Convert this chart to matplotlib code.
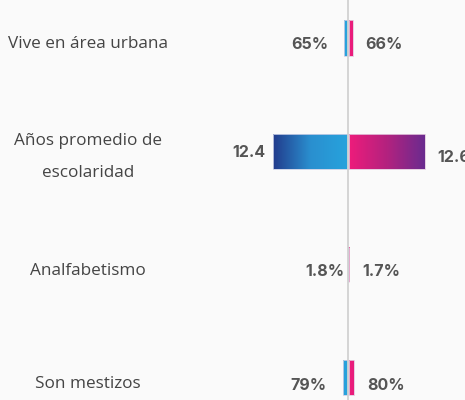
import matplotlib
matplotlib.use('Agg')
import matplotlib.pyplot as plt
from matplotlib.colors import LinearSegmentedColormap
import numpy as np

plt.rcParams['font.family'] = ['Open Sans', 'DejaVu Sans']

categories = ['Vive en área urbana', 'Años promedio de\nescolaridad',
              'Analfabetismo', 'Son mestizos']
left_vals = [0.65, 12.4, 0.018, 0.79]
right_vals = [0.66, 12.6, 0.017, 0.80]
left_labels = ['65%', '12.4', '1.8%', '79%']
right_labels = ['66%', '12.6', '1.7%', '80%']

# style / layout
BG = '#fafafa'
left_cmap = LinearSegmentedColormap.from_list('l', ['#223b8c', '#2a8fcf', '#27a3dd'])
right_cmap = LinearSegmentedColormap.from_list('r', ['#ee1c7b', '#b3227f', '#6a2b8f'])
BAR_H = 0.31
left_pad = [15, 8, 3, 16]      # px gap between bar end and label
right_pad = [12, 12, 13, 13]
left_dy = [7, 1, 7, 8]         # px shift of label below row centre
right_dy = [7, 6, 7, 8]
VAL_FONT = ['Inter', 'DejaVu Sans']

fig = plt.figure(figsize=(4.65, 4.0), dpi=100)
fig.patch.set_facecolor(BG)
ax = fig.add_axes([0, 0, 1, 1])
ax.set_facecolor(BG)
ax.axis('off')

y = np.arange(len(categories))
lmax = max(left_vals)
rmax = max(right_vals)
grad = np.linspace(0, 1, 256).reshape(1, -1)

lbars = ax.barh(y, [-v for v in left_vals], height=BAR_H, left=-0.13,
                facecolor='none', edgecolor='#c9cfe6', lw=0.6, zorder=3)
rbars = ax.barh(y, right_vals, height=BAR_H, left=0.13,
                facecolor='none', edgecolor='#e3c8de', lw=0.6, zorder=3)

for b in lbars:
    yb = b.get_y()
    im = ax.imshow(grad, cmap=left_cmap, aspect='auto', zorder=2,
                   extent=(-lmax - 0.13, -0.13, yb + BAR_H, yb))
    im.set_clip_path(b)
for b in rbars:
    yb = b.get_y()
    im = ax.imshow(grad, cmap=right_cmap, aspect='auto', zorder=2,
                   extent=(0.13, rmax + 0.13, yb + BAR_H, yb))
    im.set_clip_path(b)

ax.set_xlim(-58.08, 19.42)
ax.set_ylim(3.195, -0.335)

ax.axvline(0, color='#d2d2d2', lw=1.3, zorder=4)

for i, cat in enumerate(categories):
    ax.annotate(cat, xy=(0.189, i), xycoords=('axes fraction', 'data'),
                xytext=(0, -6), textcoords='offset pixels',
                ha='center', va='center', fontsize=12.3, color='#444444',
                linespacing=2.3)
    ax.annotate(left_labels[i], xy=(-left_vals[i] - 0.13, i),
                xytext=(-left_pad[i], -left_dy[i]), textcoords='offset pixels',
                ha='right', va='center', fontsize=11.5, fontweight='bold',
                family=VAL_FONT, color='#555555')
    ax.annotate(right_labels[i], xy=(right_vals[i] + 0.13, i),
                xytext=(right_pad[i], -right_dy[i]), textcoords='offset pixels',
                ha='left', va='center', fontsize=11.5, fontweight='bold',
                family=VAL_FONT, color='#555555', annotation_clip=False)

fig.savefig('out.png', dpi=100, facecolor=BG)
